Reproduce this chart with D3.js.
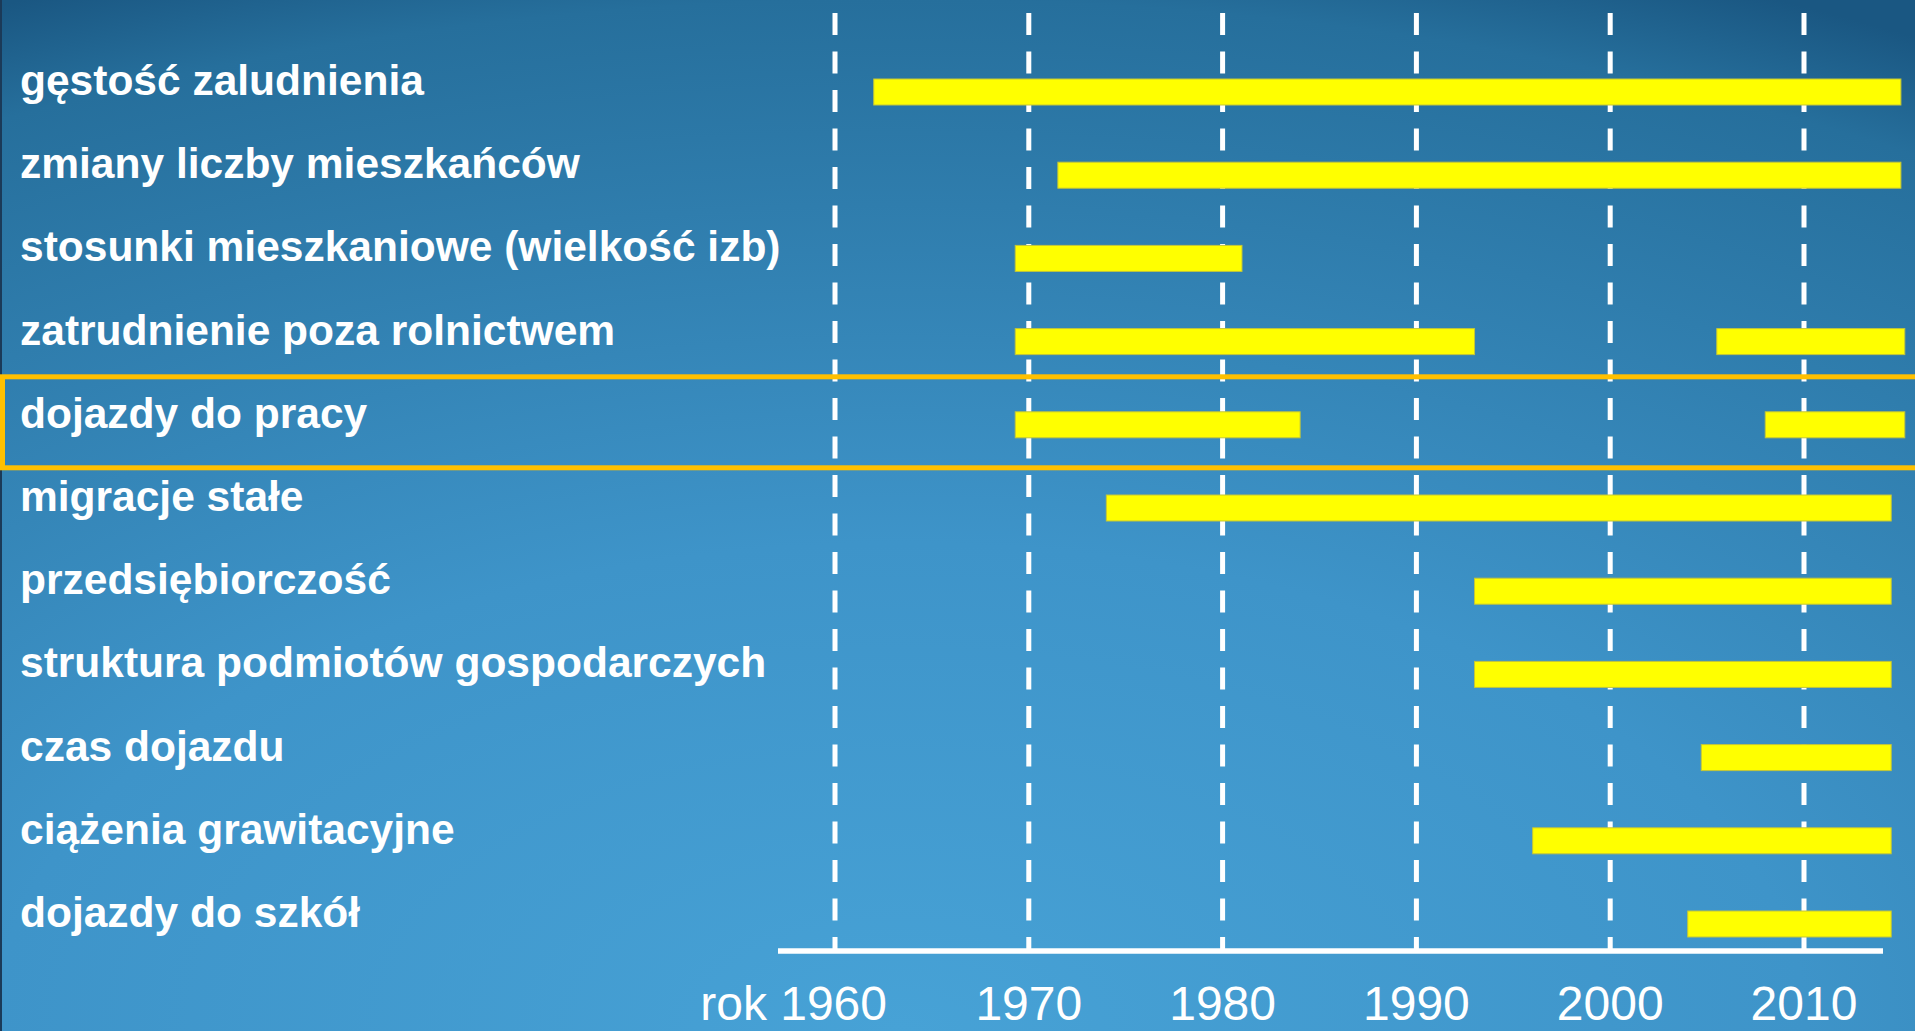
<!DOCTYPE html>
<html lang="pl">
<head>
<meta charset="utf-8">
<script src="https://cdn.jsdelivr.net/npm/d3@7/dist/d3.min.js"></script>
<style>
    html, body { margin: 0; padding: 0; overflow: hidden; background: #2a78a8; }
    svg { display: block; }
</style>
</head>
<body>
<svg id="chart"></svg>
<script>
// ── Data ──────────────────────────────────────────────────────────────────────
const CATEGORIES = [
    'gęstość zaludnienia',
    'zmiany liczby mieszkańców',
    'stosunki mieszkaniowe (wielkość izb)',
    'zatrudnienie poza rolnictwem',
    'dojazdy do pracy',
    'migracje stałe',
    'przedsiębiorczość',
    'struktura podmiotów gospodarczych',
    'czas dojazdu',
    'ciążenia grawitacyjne',
    'dojazdy do szkół',
];

// Years covered by each category (one or more [from, to] periods)
const PERIODS = [
    [[1962, 2015]],
    [[1971.5, 2015]],
    [[1969.3, 1981]],
    [[1969.3, 1993], [2005.5, 2015.2]],
    [[1969.3, 1984], [2008, 2015.2]],
    [[1974, 2014.5]],
    [[1993, 2014.5]],
    [[1993, 2014.5]],
    [[2004.7, 2014.5]],
    [[1996, 2014.5]],
    [[2004, 2014.5]],
];

const TICK_YEARS   = [1960, 1970, 1980, 1990, 2000, 2010];
const FIRST_PREFIX = 'rok ';
const HIGHLIGHT    = 'dojazdy do pracy';


// ── Layout ────────────────────────────────────────────────────────────────────
const W = 1915, H = 1031;
const FONT   = '"Liberation Sans", Arial, Helvetica, sans-serif';
const BAR_H  = 26;
const AXIS_Y = 951;
const GRID_TOP = 13;

const svg = d3.select('#chart').attr('width', W).attr('height', H);

// Background: light blue at bottom centre, darker towards the top corners
const defs = svg.append('defs');
const bg = defs.append('radialGradient')
    .attr('id', 'bg')
    .attr('cx', 0.47).attr('cy', 1.0).attr('r', 1.1);
[[0, '#47a2d6'], [0.43, '#3e94c9'], [0.91, '#266f9c'], [1, '#1a5782']]
    .forEach(([o, c]) => bg.append('stop').attr('offset', o).attr('stop-color', c));

svg.append('rect').attr('width', W).attr('height', H).attr('fill', 'url(#bg)');
svg.append('rect').attr('width', 2).attr('height', H).attr('fill', '#1b3a58');

const x = d3.scaleLinear().domain([1960, 2010]).range([835, 1804]);
const y = d3.scalePoint().domain(CATEGORIES).range([92, 924]);


// ── Grid lines ────────────────────────────────────────────────────────────────
svg.append('g')
    .selectAll('line')
    .data(TICK_YEARS)
    .join('line')
    .attr('x1', d => x(d)).attr('x2', d => x(d))
    .attr('y1', GRID_TOP).attr('y2', AXIS_Y)
    .attr('stroke', '#ffffff')
    .attr('stroke-width', 5)
    .attr('stroke-dasharray', '22 16.5');


// ── Highlight box ─────────────────────────────────────────────────────────────
svg.append('rect')
    .attr('x', 2.5)
    .attr('y', y(HIGHLIGHT) - 48)
    .attr('width', W + 10)
    .attr('height', 91)
    .attr('fill', 'none')
    .attr('stroke', '#ffc000')
    .attr('stroke-width', 5);


// ── Bars ──────────────────────────────────────────────────────────────────────
const segs = CATEGORIES.flatMap((c, i) => PERIODS[i].map(([a, b]) => ({ c, a, b })));

svg.append('g')
    .selectAll('rect')
    .data(segs)
    .join('rect')
    .attr('x', d => x(d.a))
    .attr('y', d => y(d.c) - BAR_H / 2)
    .attr('width', d => x(d.b) - x(d.a))
    .attr('height', BAR_H)
    .attr('fill', '#ffff00')
    .attr('stroke', '#c3c53a')
    .attr('stroke-width', 1);


// ── Category labels ───────────────────────────────────────────────────────────
svg.append('g')
    .selectAll('text')
    .data(CATEGORIES)
    .join('text')
    .attr('x', 20)
    .attr('y', d => y(d) + 3)
    .attr('fill', '#ffffff')
    .attr('font-family', FONT)
    .attr('font-size', 42.5)
    .attr('font-weight', 700)
    .text(d => d);


// ── X axis ────────────────────────────────────────────────────────────────────
svg.append('line')
    .attr('x1', 778).attr('x2', 1883)
    .attr('y1', AXIS_Y).attr('y2', AXIS_Y)
    .attr('stroke', '#ffffff')
    .attr('stroke-width', 5.5);

svg.append('g')
    .selectAll('text')
    .data(TICK_YEARS)
    .join('text')
    .attr('x', (d, i) => i === 0 ? x(d) + 52 : x(d))
    .attr('y', 1020)
    .attr('text-anchor', (d, i) => i === 0 ? 'end' : 'middle')
    .attr('fill', '#ffffff')
    .attr('font-family', FONT)
    .attr('font-size', 48)
    .text((d, i) => (i === 0 ? FIRST_PREFIX : '') + d);
</script>
</body>
</html>
